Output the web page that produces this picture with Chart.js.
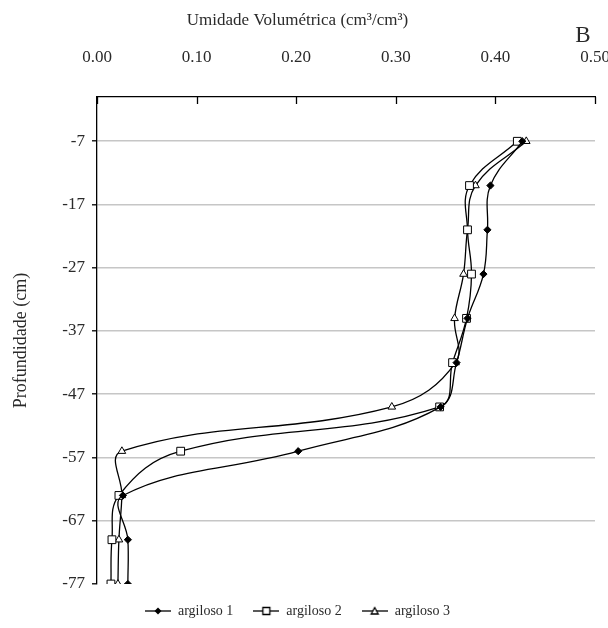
<!DOCTYPE html>
<html>
<head>
<meta charset="utf-8">
<script src="https://cdn.jsdelivr.net/npm/chart.js@4.4.1/dist/chart.umd.min.js"></script>
<style>
  html, body { margin: 0; padding: 0; background: #fff; }
  #wrap { width: 608px; height: 628px; }
</style>
</head>
<body>
<div id="wrap"><canvas id="umidadeChart" width="608" height="628"></canvas></div>
<script>
// depth (cm) of each reading, shared by all three profiles
const depths = [-7, -14, -21, -28, -35, -42, -49, -56, -63, -70, -77];
// volumetric moisture (cm3/cm3)
const argiloso1 = [0.427, 0.395, 0.392, 0.388, 0.372, 0.361, 0.345, 0.202, 0.026, 0.031, 0.031];
const argiloso2 = [0.422, 0.374, 0.372, 0.376, 0.371, 0.357, 0.344, 0.084, 0.022, 0.015, 0.014];
const argiloso3 = [0.431, 0.380, 0.372, 0.368, 0.359, 0.360, 0.296, 0.025, 0.025, 0.022, 0.021];
const seriesNames = ["argiloso 1", "argiloso 2", "argiloso 3"];
const depthTicks = [-7, -17, -27, -37, -47, -57, -67, -77];
const moistureTicks = [0.0, 0.1, 0.2, 0.3, 0.4, 0.5];

const serif = "'Liberation Serif', 'Times New Roman', serif";
Chart.defaults.font.family = serif;
Chart.defaults.color = "#2a2a2a";

function toPoints(values) {
    return depths.map((d, i) => ({ x: values[i], y: d }));
}

// small line+marker glyphs for the legend
function legendIcon(kind) {
    const c = document.createElement("canvas");
    c.width = 26; c.height = 12;
    const g = c.getContext("2d");
    g.strokeStyle = "#000";
    g.lineWidth = 1.3;
    g.beginPath(); g.moveTo(0, 6); g.lineTo(26, 6); g.stroke();
    g.beginPath();
    if (kind === "diamond") {
        g.moveTo(13, 2.5); g.lineTo(16.5, 6); g.lineTo(13, 9.5); g.lineTo(9.5, 6); g.closePath();
        g.fillStyle = "#000"; g.fill();
    } else if (kind === "square") {
        g.rect(9.5, 2.5, 7, 7);
        g.fillStyle = "#fff"; g.fill(); g.stroke();
    } else {
        g.moveTo(13, 2.5); g.lineTo(16.5, 9); g.lineTo(9.5, 9); g.closePath();
        g.fillStyle = "#fff"; g.fill(); g.stroke();
    }
    return c;
}
const legendIcons = [legendIcon("diamond"), legendIcon("square"), legendIcon("triangle")];

// tick marks of the top axis point into the plot
const innerTopTicks = {
    id: "innerTopTicks",
    afterDraw(chart) {
        const { ctx, chartArea } = chart;
        const xs = chart.scales.x;
        ctx.save();
        ctx.strokeStyle = "#000";
        ctx.lineWidth = 1.3;
        xs.ticks.forEach(t => {
            const px = Math.round(xs.getPixelForValue(t.value)) + 0.5;
            ctx.beginPath();
            ctx.moveTo(px, chartArea.top);
            ctx.lineTo(px, chartArea.top + 7);
            ctx.stroke();
        });
        ctx.restore();
    }
};

const panelLetter = {
    id: "panelLetter",
    afterDraw(chart) {
        const ctx = chart.ctx;
        ctx.save();
        ctx.font = "23px " + serif;
        ctx.fillStyle = "#2a2a2a";
        ctx.textAlign = "center";
        ctx.textBaseline = "middle";
        ctx.fillText("B", 583, 36);
        ctx.restore();
    }
};

const markerStyles = [
    { pointStyle: "rectRot", pointRadius: 3.6, pointBackgroundColor: "#000" },
    { pointStyle: "rect", pointRadius: 5.5, pointBackgroundColor: "#fff" },
    { pointStyle: "triangle", pointRadius: 4.4, pointBackgroundColor: "#fff" }
];

const ctx = document.getElementById("umidadeChart").getContext("2d");
new Chart(ctx, {
    type: "scatter",
    data: {
        datasets: [argiloso1, argiloso2, argiloso3].map((vals, i) => ({
            label: seriesNames[i],
            data: toPoints(vals),
            showLine: true,
            tension: 0.4,
            borderColor: "#000",
            borderWidth: 1.3,
            pointBorderColor: "#000",
            pointBorderWidth: 1,
            ...markerStyles[i]
        }))
    },
    options: {
        responsive: false,
        animation: false,
        layout: { padding: { left: 0, right: 13, top: 0, bottom: 0 } },
        plugins: {
            title: {
                display: true,
                text: "Umidade Volumétrica (cm³/cm³)",
                font: { size: 17, weight: "normal" },
                padding: { top: 10, bottom: 4 },
                color: "#2a2a2a"
            },
            legend: {
                position: "bottom",
                labels: {
                    usePointStyle: true,
                    pointStyleWidth: 26,
                    padding: 20,
                    font: { size: 14 },
                    generateLabels(chart) {
                        return chart.data.datasets.map((ds, i) => ({
                            text: ds.label,
                            pointStyle: legendIcons[i],
                            fillStyle: "#fff",
                            strokeStyle: "#000",
                            lineWidth: 0,
                            hidden: false,
                            datasetIndex: i,
                            fontColor: "#2a2a2a"
                        }));
                    }
                }
            },
            tooltip: { enabled: false }
        },
        scales: {
            x: {
                type: "linear",
                position: "top",
                min: 0,
                max: 0.5,
                afterBuildTicks(scale) {
                    scale.ticks = moistureTicks.map(v => ({ value: v }));
                },
                afterFit(scale) {
                    scale.height = 62.6;
                    scale.paddingLeft = 0;
                    scale.paddingRight = 0;
                },
                ticks: {
                    padding: 21,
                    font: { size: 17 },
                    maxRotation: 0,
                    callback: v => Number(v).toFixed(2)
                },
                grid: { display: false },
                border: { display: true, color: "#000", width: 1.3 }
            },
            y: {
                type: "linear",
                position: "left",
                min: -77,
                max: 0,
                afterBuildTicks(scale) {
                    scale.ticks = depthTicks.map(v => ({ value: v }));
                },
                afterFit(scale) {
                    scale.width = 97;
                    scale.paddingTop = 0;
                    scale.paddingBottom = 0;
                },
                title: {
                    display: true,
                    text: "Profundidade (cm)",
                    font: { size: 18 },
                    padding: { top: 10, bottom: 0 }
                },
                ticks: {
                    padding: 7,
                    font: { size: 17 },
                    callback: v => String(v)
                },
                grid: {
                    color: c => (c.tick && c.tick.value === -77) ? "rgba(0,0,0,0)" : "#c6c6c6",
                    lineWidth: 1.6,
                    tickColor: "#000",
                    tickLength: 5,
                    tickWidth: 1.3
                },
                border: { display: true, color: "#000", width: 1.3 }
            }
        }
    },
    plugins: [innerTopTicks, panelLetter]
});
</script>
</body>
</html>
